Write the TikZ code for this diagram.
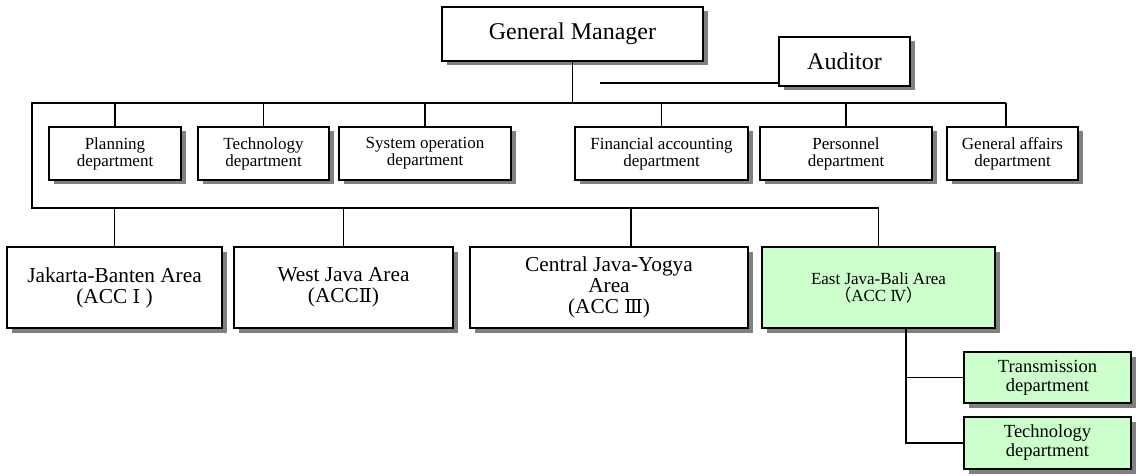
\documentclass[tikz,border=0pt]{standalone}
\usepackage{fontspec}
\setmainfont{Liberation Serif}
\newfontfamily\cjk{Noto Sans CJK SC}
\newfontfamily\rnf{DejaVu Serif}[Scale=0.9]
\usetikzlibrary{shadows}
\definecolor{shadowgray}{HTML}{808080}
\definecolor{lightgreen}{HTML}{CCFFCC}
\newcommand{\rn}[1]{{\rnf #1}}
\begin{document}
\begin{tikzpicture}[x=1pt,y=-1pt,
  box/.style={draw=black, line width=1.6pt, fill=white, align=center, inner sep=0pt,
    general shadow={fill=shadowgray, shadow xshift=4.5pt, shadow yshift=-4.5pt}},
  green/.style={fill=lightgreen},
  big/.style={font=\fontsize{24}{25}\selectfont},
  dept/.style={font=\fontsize{17}{17}\selectfont},
  area/.style={font=\fontsize{21.3}{21}\selectfont},
  small/.style={font=\fontsize{17}{17}\selectfont},
  sub/.style={font=\fontsize{18.5}{19}\selectfont},
  conn/.style={line width=1.5pt}]
\useasboundingbox (0,0) rectangle (1136,476);

% top
\node[box,big,minimum width=261pt,minimum height=54pt] (gm) at (572.5,34) {General Manager};
\node[box,big,minimum width=131pt,minimum height=49pt] (aud) at (844.5,61.5) {Auditor};

% departments
\node[box,dept,minimum width=132pt,minimum height=53pt] (p1) at (115,153.5) {Planning\\department};
\node[box,dept,minimum width=131pt,minimum height=53pt] (p2) at (263.5,153.5) {Technology\\department};
\node[box,dept,minimum width=172pt,minimum height=53pt] (p3) at (425,153.5) {System operation\\department};
\node[box,dept,minimum width=173pt,minimum height=53pt] (p4) at (661.5,153.5) {Financial accounting\\department};
\node[box,dept,minimum width=172pt,minimum height=53pt] (p5) at (846,153.5) {Personnel\\department};
\node[box,dept,minimum width=131pt,minimum height=53pt] (p6) at (1012.5,153.5) {General affairs\\department};

% areas
\node[box,area,minimum width=215pt,minimum height=81pt] (a1) at (114.5,287.5) {Jakarta-Banten Area\\(ACC \rn{Ⅰ} )};
\node[box,area,minimum width=219pt,minimum height=81pt] (a2) at (343.5,287.5) {West Java Area\\(ACC\rn{Ⅱ})};
\node[box,area,minimum width=278pt,minimum height=81pt] (a3) at (609,287.5) {Central Java-Yogya\\Area\\(ACC \rn{Ⅲ})};
\node[box,green,small,minimum width=233pt,minimum height=81pt] (a4) at (878.5,287.5) {East Java-Bali Area\\{\cjk （}ACC \rn{Ⅳ}{\cjk ）}};

% sub departments
\node[box,green,sub,minimum width=167pt,minimum height=51pt] (s1) at (1047.5,377.5) {Transmission\\department};
\node[box,green,sub,minimum width=167pt,minimum height=52pt] (s2) at (1047.5,443) {Technology\\department};

% bus coordinates
\coordinate (busL) at (32,103);
\coordinate (busR) at (1006,103);
\coordinate (bus2) at (32,208);
\coordinate (audj) at (600,83);
\coordinate (j) at (906,328);

% connectors
\draw[conn] (gm.south) -- (gm.south |- busL);
\draw[conn] (audj) -- (aud.west |- audj);
\draw[conn] (busR) -- (busL) -- (bus2) -- (a4.north |- bus2) -- (a4.north);
\foreach \n in {p1,p2,p3,p4,p5}{\draw[conn] (\n.north) -- (\n.north |- busL);}
\draw[conn] (busR) -- (busR |- p6.north);
\draw[conn] (a1.north) -- (a1.north |- bus2);
\draw[conn] (a2.north) -- (a2.north |- bus2);
\draw[conn] ([xshift=22pt]a3.north) -- ([xshift=22pt]a3.north |- bus2);
\draw[conn] (j) -- (j |- s2.west) -- (s2.west);
\draw[conn] (j |- s1.west) -- (s1.west);
\end{tikzpicture}
\end{document}
